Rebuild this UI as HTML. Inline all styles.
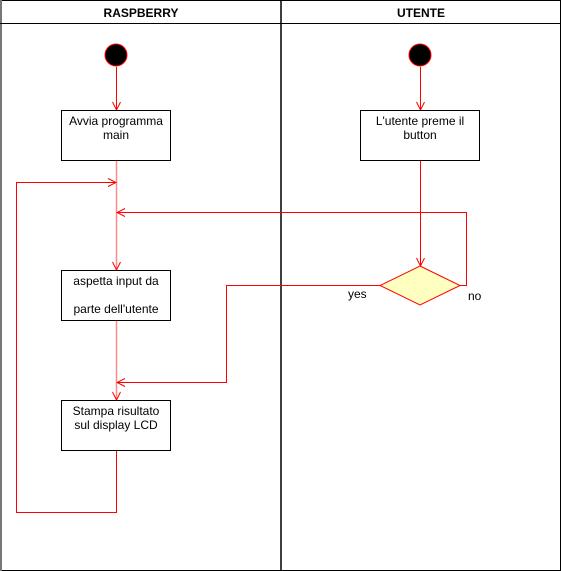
<!DOCTYPE html>
<html><head><meta charset="utf-8"><style>
html,body{margin:0;padding:0;background:#fff;}
svg{display:block;}
text{font-family:"Liberation Sans",Arial,sans-serif;font-size:12px;fill:#000;}
</style></head><body>
<svg width="561" height="571" viewBox="0 0 561 571" xmlns="http://www.w3.org/2000/svg">
<defs>
<marker id="a" markerWidth="10" markerHeight="10" refX="9" refY="5" orient="auto" markerUnits="userSpaceOnUse">
<path d="M1,1 L9,5 L1,9" fill="none" stroke="#f00" stroke-width="1"/>
</marker>
</defs>
<rect x="0.5" y="0.5" width="560" height="570" fill="#fff" stroke="#000"/>
<line x1="1" y1="0" x2="1" y2="571" stroke="#777" stroke-width="2"/>
<line x1="0" y1="23.5" x2="561" y2="23.5" stroke="#000"/>
<line x1="281" y1="0" x2="281" y2="571" stroke="#000" stroke-width="1.5"/>
<text x="141" y="17" text-anchor="middle" font-weight="bold" style="font-weight:bold">RASPBERRY</text>
<text x="421" y="17" text-anchor="middle" style="font-weight:bold">UTENTE</text>

<circle cx="116" cy="55" r="11" fill="#000" stroke="#f00" stroke-width="1"/>
<circle cx="420" cy="55" r="11" fill="#000" stroke="#f00" stroke-width="1"/>

<g stroke="#f00" fill="none" stroke-width="1">
<line x1="116.5" y1="67" x2="116.5" y2="110" marker-end="url(#a)"/>
<line x1="420.5" y1="67" x2="420.5" y2="110" marker-end="url(#a)"/>
<line x1="116.5" y1="160" x2="116.5" y2="270" stroke="#f88" stroke-width="1.5" marker-end="url(#a)"/>
<line x1="116.5" y1="320" x2="116.5" y2="400" stroke="#f88" stroke-width="1.5" marker-end="url(#a)"/>
<line x1="420.5" y1="160" x2="420.5" y2="266" marker-end="url(#a)"/>
<polyline points="116.5,450 116.5,512.5 16.5,512.5 16.5,182.5 116,182.5" marker-end="url(#a)"/>
<polyline points="460,285.5 466.5,285.5 466.5,212.5 117,212.5" marker-end="url(#a)"/>
<polyline points="380,285.5 226.5,285.5 226.5,382.5 117,382.5" marker-end="url(#a)"/>
</g>
<polygon points="420,266 460,285.5 420,305 380,285.5" fill="#ffffc0" stroke="#f00" stroke-width="1"/>
<text x="348" y="298">yes</text>
<text x="468" y="300">no</text>

<g fill="#fff" stroke="#000" stroke-width="1">
<rect x="61.5" y="110.5" width="109" height="50"/>
<rect x="360.5" y="110.5" width="119" height="50"/>
<rect x="61.5" y="270.5" width="109" height="50"/>
<rect x="61.5" y="400.5" width="109" height="50"/>
</g>
<text x="116" y="125" text-anchor="middle">Avvia programma</text>
<text x="116" y="139" text-anchor="middle">main</text>
<text x="420" y="125" text-anchor="middle">L'utente preme il</text>
<text x="420" y="139" text-anchor="middle">button</text>
<text x="116" y="285" text-anchor="middle">aspetta input da</text>
<text x="116" y="313" text-anchor="middle">parte dell'utente</text>
<text x="116" y="415" text-anchor="middle">Stampa risultato</text>
<text x="116" y="429" text-anchor="middle">sul display LCD</text>
</svg>
</body></html>
